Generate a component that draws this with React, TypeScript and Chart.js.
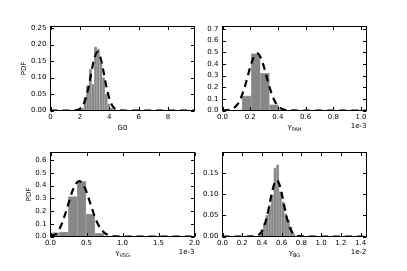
import React, { useEffect, useRef } from "react";
import { Chart, registerables } from "chart.js";

Chart.register(...registerables);

// ---------- data ----------
const g0Edges = [2.08, 2.26, 2.44, 2.62, 2.8, 2.98, 3.16, 3.34, 3.52, 3.7, 3.88, 4.06, 4.24, 4.42];
const g0Hist = [0.008, 0.04, 0.075, 0.125, 0.08, 0.193, 0.187, 0.145, 0.1, 0.05, 0.02, 0.008, 0.003];
const g0CurveX = [0, 1, 1.6, 1.8, 2.0, 2.2, 2.4, 2.6, 2.8, 3.0, 3.2, 3.4, 3.6, 3.8, 4.0, 4.2, 4.4, 4.6, 4.8, 5, 6, 7, 8, 9, 9.8];
const g0CurveY = [0, 0, 0.0003, 0.0014, 0.005, 0.015, 0.037, 0.073, 0.12, 0.161, 0.178, 0.161, 0.12, 0.073, 0.037, 0.015, 0.005, 0.0014, 0.0003, 0, 0, 0, 0, 0, 0];

const pahEdges = [0.075, 0.141, 0.207, 0.273, 0.339, 0.405, 0.471];
const pahHist = [0.005, 0.125, 0.487, 0.32, 0.05, 0.004];
const pahCurveX = [0, 0.05, 0.075, 0.1, 0.125, 0.15, 0.175, 0.2, 0.225, 0.25, 0.275, 0.3, 0.325, 0.35, 0.375, 0.4, 0.425, 0.45, 0.5, 0.6, 0.7, 0.8, 0.9, 1.0, 1.04];
const pahCurveY = [0.0005, 0.006, 0.016, 0.04, 0.086, 0.161, 0.262, 0.371, 0.457, 0.49, 0.457, 0.371, 0.262, 0.161, 0.086, 0.04, 0.016, 0.006, 0.0005, 0, 0, 0, 0, 0, 0];

const vsgEdges = [0.0, 0.1235, 0.247, 0.3705, 0.494, 0.6175, 0.741, 0.8645];
const vsgHist = [0.03, 0.035, 0.314, 0.433, 0.177, 0.025, 0.003];
const vsgCurveX = [0, 0.05, 0.1, 0.15, 0.2, 0.25, 0.3, 0.35, 0.4, 0.45, 0.5, 0.55, 0.6, 0.65, 0.7, 0.75, 0.8, 0.9, 1.0, 1.2, 1.4, 1.6, 1.8, 2.0];
const vsgCurveY = [0.004, 0.012, 0.035, 0.09, 0.17, 0.26, 0.35, 0.412, 0.435, 0.412, 0.351, 0.265, 0.179, 0.108, 0.058, 0.028, 0.012, 0.0016, 0, 0, 0, 0, 0, 0];

const bgEdges = [0.384, 0.411, 0.438, 0.465, 0.492, 0.519, 0.546, 0.573, 0.6, 0.627, 0.654, 0.681, 0.708, 0.735];
const bgHist = [0.015, 0.031, 0.05, 0.074, 0.098, 0.161, 0.169, 0.106, 0.082, 0.054, 0.039, 0.023, 0.007];
const bgCurveX = [0, 0.1, 0.2, 0.3, 0.35, 0.375, 0.4, 0.425, 0.45, 0.475, 0.5, 0.525, 0.55, 0.575, 0.6, 0.625, 0.65, 0.675, 0.7, 0.725, 0.75, 0.8, 0.9, 1.0, 1.1, 1.2, 1.3, 1.4, 1.46];
const bgCurveY = [0, 0, 0, 0.0002, 0.002, 0.0053, 0.0125, 0.026, 0.0466, 0.074, 0.102, 0.124, 0.133, 0.124, 0.102, 0.074, 0.0466, 0.026, 0.0125, 0.0053, 0.002, 0.0002, 0, 0, 0, 0, 0, 0, 0];

// ---------- layout / style ----------
const FONT = '"DejaVu Sans", sans-serif';
const TICK_SIZE = 7;

type Panel = {
  edges: number[];
  hist: number[];
  cx: number[];
  cy: number[];
  xMin: number;
  xMax: number;
  xStep: number;
  xDec: number;
  yMax: number;
  yStep: number;
  yDec: number;
  label: string;
  sub: string;
  offsetText: string;
  yLabelX: number | null;
  // canvas placement
  left: number;
  top: number;
  width: number;
  height: number;
  // chart area inside canvas
  aLeft: number;
  aTop: number;
  aRight: number;
  aBottom: number;
};

const panels: Panel[] = [
  {
    edges: g0Edges, hist: g0Hist, cx: g0CurveX, cy: g0CurveY,
    xMin: 0, xMax: 9.8, xStep: 2, xDec: 0, yMax: 0.255, yStep: 0.05, yDec: 2,
    label: "G0", sub: "", offsetText: "", yLabelX: 24,
    left: 0, top: 0, width: 203, height: 135,
    aLeft: 50.5, aTop: 26.5, aRight: 194.5, aBottom: 110.5,
  },
  {
    edges: pahEdges, hist: pahHist, cx: pahCurveX, cy: pahCurveY,
    xMin: 0, xMax: 1.04, xStep: 0.2, xDec: 1, yMax: 0.72, yStep: 0.1, yDec: 1,
    label: "Y", sub: "PAH", offsetText: "1e-3", yLabelX: null,
    left: 203, top: 0, width: 204, height: 135,
    aLeft: 19.5, aTop: 26.5, aRight: 163.5, aBottom: 110.5,
  },
  {
    edges: vsgEdges, hist: vsgHist, cx: vsgCurveX, cy: vsgCurveY,
    xMin: 0, xMax: 2.0, xStep: 0.5, xDec: 1, yMax: 0.66, yStep: 0.1, yDec: 1,
    label: "Y", sub: "VSG", offsetText: "1e-3", yLabelX: 29,
    left: 0, top: 135, width: 203, height: 136,
    aLeft: 50.5, aTop: 17.5, aRight: 194.5, aBottom: 101.5,
  },
  {
    edges: bgEdges, hist: bgHist, cx: bgCurveX, cy: bgCurveY,
    xMin: 0, xMax: 1.46, xStep: 0.2, xDec: 1, yMax: 0.198, yStep: 0.05, yDec: 2,
    label: "Y", sub: "BG", offsetText: "1e-2", yLabelX: null,
    left: 203, top: 135, width: 204, height: 136,
    aLeft: 19.5, aTop: 17.5, aRight: 163.5, aBottom: 101.5,
  },
];

function makeFramePlugin(p: Panel) {
  return {
    id: "frame",
    afterDraw(chart: any) {
      const ctx = chart.ctx as CanvasRenderingContext2D;
      const a = chart.chartArea;
      const xs = chart.scales.x;
      const ys = chart.scales.y;
      ctx.save();
      ctx.strokeStyle = "#000";
      ctx.lineWidth = 1;
      ctx.strokeRect(a.left, a.top, a.right - a.left, a.bottom - a.top);
      const tl = 3.5;
      ctx.beginPath();
      for (const t of xs.ticks) {
        const px = Math.round(xs.getPixelForValue(t.value)) + 0.5;
        ctx.moveTo(px, a.bottom);
        ctx.lineTo(px, a.bottom - tl);
        ctx.moveTo(px, a.top);
        ctx.lineTo(px, a.top + tl);
      }
      for (const t of ys.ticks) {
        const py = Math.round(ys.getPixelForValue(t.value)) + 0.5;
        ctx.moveTo(a.left, py);
        ctx.lineTo(a.left + tl, py);
        ctx.moveTo(a.right, py);
        ctx.lineTo(a.right - tl, py);
      }
      ctx.stroke();

      // x label
      ctx.fillStyle = "#000";
      ctx.textBaseline = "middle";
      const cxm = (a.left + a.right) / 2;
      const ly = a.bottom + 17.5;
      ctx.font = `${TICK_SIZE}px ${FONT}`;
      const w1 = ctx.measureText(p.label).width;
      let w2 = 0;
      if (p.sub) {
        ctx.font = `5px ${FONT}`;
        w2 = ctx.measureText(p.sub).width;
      }
      const start = cxm - (w1 + w2) / 2;
      ctx.textAlign = "left";
      ctx.font = `${TICK_SIZE}px ${FONT}`;
      ctx.fillText(p.label, start, ly);
      if (p.sub) {
        ctx.font = `5px ${FONT}`;
        ctx.fillText(p.sub, start + w1, ly + 2);
      }

      // offset text
      if (p.offsetText) {
        ctx.font = `${TICK_SIZE}px ${FONT}`;
        ctx.textAlign = "right";
        ctx.fillText(p.offsetText, a.right, a.bottom + 16);
      }

      // y label
      if (p.yLabelX !== null) {
        ctx.save();
        ctx.translate(p.yLabelX, (a.top + a.bottom) / 2);
        ctx.rotate(-Math.PI / 2);
        ctx.textAlign = "center";
        ctx.textBaseline = "middle";
        ctx.font = `${TICK_SIZE}px ${FONT}`;
        ctx.fillText("PDF", 0, 0);
        ctx.restore();
      }
      ctx.restore();
    },
  };
}

function HistPanel({ p }: { p: Panel }) {
  const ref = useRef<HTMLCanvasElement | null>(null);
  useEffect(() => {
    if (!ref.current) return;
    const bars = p.hist.map((h, i) => ({ x: (p.edges[i] + p.edges[i + 1]) / 2, y: h }));
    const curve = p.cx.map((x, i) => ({ x, y: p.cy[i] }));
    const tickFont = { family: FONT, size: TICK_SIZE };
    const chart = new Chart(ref.current, {
      type: "bar",
      data: {
        datasets: [
          {
            type: "line",
            data: curve,
            borderColor: "#000",
            borderWidth: 2.2,
            borderDash: [7, 5],
            pointRadius: 0,
            fill: false,
            cubicInterpolationMode: "monotone",
            order: 0,
          } as any,
          {
            type: "bar",
            data: bars,
            backgroundColor: "#878787",
            borderColor: "#b5b5b5",
            borderWidth: 0.6,
            barPercentage: 1,
            categoryPercentage: 1,
            order: 1,
          } as any,
        ],
      },
      options: {
        animation: false,
        responsive: false,
        maintainAspectRatio: false,
        devicePixelRatio: 1,
        events: [],
        layout: {
          autoPadding: false,
          padding: { left: 0, top: p.aTop, right: p.width - p.aRight, bottom: 0 },
        } as any,
        plugins: { legend: { display: false }, tooltip: { enabled: false } },
        scales: {
          x: {
            type: "linear",
            min: p.xMin,
            max: p.xMax,
            offset: false,
            grid: { display: false, drawTicks: false, offset: false },
            border: { display: false },
            ticks: {
              stepSize: p.xStep,
              includeBounds: false,
              autoSkip: false,
              maxRotation: 0,
              padding: 2.5,
              color: "#000",
              font: tickFont,
              callback: (v: any) => Number(v).toFixed(p.xDec),
            },
            afterFit: (s: any) => {
              s.height = p.height - p.aBottom;
            },
          },
          y: {
            type: "linear",
            min: 0,
            max: p.yMax,
            grid: { display: false, drawTicks: false },
            border: { display: false },
            ticks: {
              stepSize: p.yStep,
              includeBounds: false,
              autoSkip: false,
              padding: 4,
              color: "#000",
              font: tickFont,
              callback: (v: any) => Number(v).toFixed(p.yDec),
            },
            afterFit: (s: any) => {
              s.width = p.aLeft;
            },
          },
        } as any,
      },
      plugins: [makeFramePlugin(p)],
    } as any);
    return () => chart.destroy();
  }, [p]);
  return (
    <canvas
      ref={ref}
      width={p.width}
      height={p.height}
      style={{ position: "absolute", left: p.left, top: p.top, width: p.width, height: p.height }}
    />
  );
}

export default function App() {
  return (
    <div style={{ position: "absolute", left: 0, top: 0, width: 407, height: 271, background: "#fff", overflow: "hidden" }}>
      {panels.map((p, i) => (
        <HistPanel key={i} p={p} />
      ))}
    </div>
  );
}
